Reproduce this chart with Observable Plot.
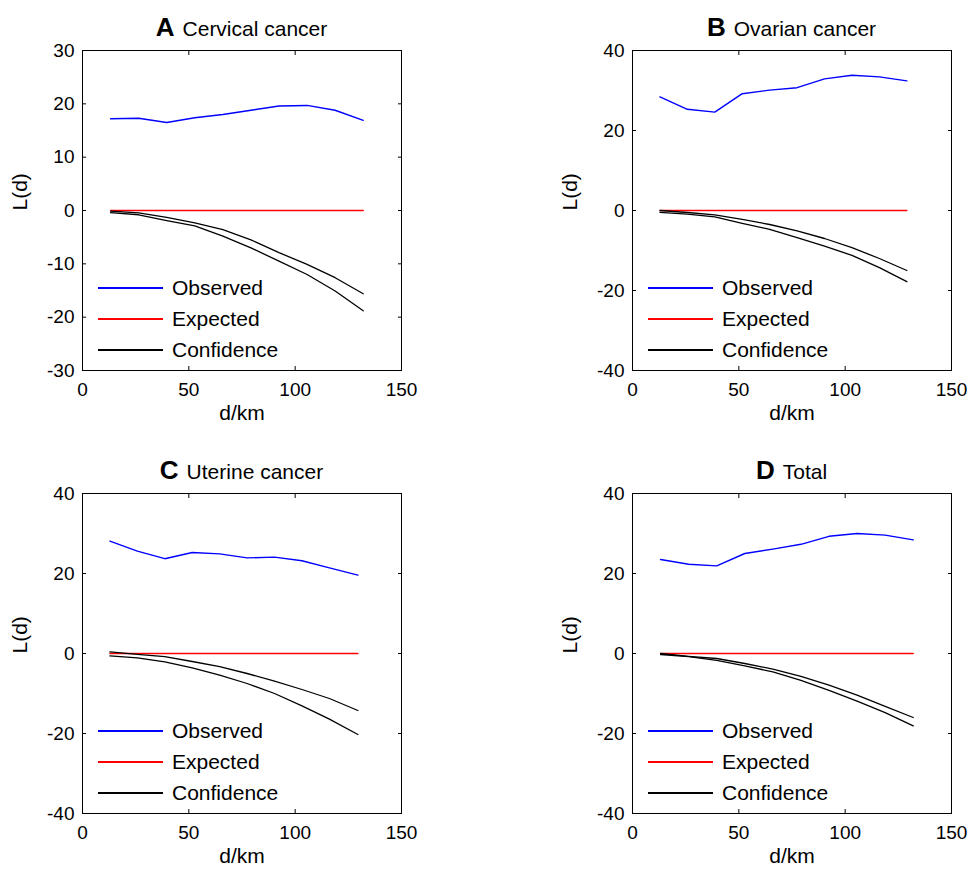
<!DOCTYPE html>
<html>
<head>
<meta charset="utf-8">
<script src="https://cdn.jsdelivr.net/npm/d3@7"></script>
<script src="https://cdn.jsdelivr.net/npm/@observablehq/plot@0.6"></script>
<style>
  html, body { margin: 0; padding: 0; background: white; overflow: hidden; }
  #wrap { position: relative; width: 969px; height: 871px; font-family: 'Liberation Sans', Arial, sans-serif; overflow: hidden; }
  .panel { position: absolute; width: 484px; height: 435px; }
  .panel svg { max-width: none !important; width: 484px; height: 435px; display: block; }
  .title { position: absolute; text-align: center; font-size: 21px; white-space: nowrap; line-height: 1; }
  .title b { font-size: 26px; margin-right: 8px; }
  .legend { position: absolute; font-size: 21px; line-height: 1; }
  .legend .row { position: absolute; left: 0; white-space: nowrap; }
  .legend .sw { position: absolute; left: 0; top: 0; width: 65px; height: 2px; }
  .legend .lab { position: absolute; left: 74px; top: -10px; }
</style>
</head>
<body>
<div id="wrap"></div>
<script>
// ---- data ----
const seriesNames = ["Observed", "Expected", "Confidence"];

const dA = [13.2, 26.4, 39.6, 52.8, 66, 79.2, 92.4, 105.6, 118.8, 132];
const obsA = [17.2, 17.3, 16.5, 17.4, 18.0, 18.8, 19.6, 19.7, 18.8, 16.9];
const expA = [0, 0, 0, 0, 0, 0, 0, 0, 0, 0];
const upA = [-0.1, -0.45, -1.3, -2.3, -3.6, -5.5, -7.9, -10.1, -12.6, -15.6];
const loA = [-0.4, -0.8, -1.9, -2.9, -4.8, -7.0, -9.5, -12.0, -15.1, -18.8];

const dB = [12.9, 25.8, 38.7, 51.6, 64.5, 77.4, 90.3, 103.2, 116.1, 129];
const obsB = [28.4, 25.3, 24.6, 29.2, 30.1, 30.7, 32.9, 33.8, 33.4, 32.4];
const expB = [0, 0, 0, 0, 0, 0, 0, 0, 0, 0];
const upB = [0, -0.5, -1.1, -2.2, -3.5, -5.1, -7.0, -9.3, -12.0, -15.0];
const loB = [-0.45, -0.9, -1.6, -3.2, -4.7, -6.8, -8.9, -11.2, -14.3, -17.8];

const dC = [12.9, 25.8, 38.7, 51.6, 64.5, 77.4, 90.3, 103.2, 116.1, 129.5];
const obsC = [28.1, 25.6, 23.7, 25.25, 24.9, 23.9, 24.1, 23.2, 21.4, 19.6];
const expC = [0, 0, 0, 0, 0, 0, 0, 0, 0, 0];
const upC = [0.4, -0.2, -0.8, -2.0, -3.3, -5.0, -6.9, -9.0, -11.25, -14.25];
const loC = [-0.6, -1.1, -2.1, -3.6, -5.4, -7.5, -10.0, -13.1, -16.4, -20.25];

const dD = [13.2, 26.4, 39.6, 52.8, 66, 79.2, 92.4, 105.6, 118.8, 132];
const obsD = [23.5, 22.3, 21.9, 25.0, 26.1, 27.3, 29.3, 30.0, 29.6, 28.4];
const expD = [0, 0, 0, 0, 0, 0, 0, 0, 0, 0];
const upD = [0, -0.7, -1.25, -2.5, -3.9, -5.7, -7.9, -10.4, -13.2, -16.0];
const loD = [-0.25, -0.8, -1.7, -3.1, -4.6, -6.7, -9.2, -11.9, -14.8, -18.1];

const xTicks = [0, 50, 100, 150];
const yTicksA = [-30, -20, -10, 0, 10, 20, 30];
const yTicks40 = [-40, -20, 0, 20, 40];

const panels = [
  {letter: "A", name: "Cervical cancer", d: dA, obs: obsA, exp: expA, up: upA, lo: loA, yTicks: yTicksA, left: 0, top: 0},
  {letter: "B", name: "Ovarian cancer", d: dB, obs: obsB, exp: expB, up: upB, lo: loB, yTicks: yTicks40, left: 550, top: 0},
  {letter: "C", name: "Uterine cancer", d: dC, obs: obsC, exp: expC, up: upC, lo: loC, yTicks: yTicks40, left: 0, top: 443},
  {letter: "D", name: "Total", d: dD, obs: obsD, exp: expD, up: upD, lo: loD, yTicks: yTicks40, left: 550, top: 443}
];

const colors = {Observed: "#0000ff", Expected: "#ff0000", Confidence: "#000000"};
const ML = 82, MT = 50, FW = 319, FH = 320;
const W = 484, H = 435;
const fmt = d => String(d);
const blank = () => "";

const wrap = document.getElementById("wrap");

for (const p of panels) {
  const rows = p.d.map((x, i) => ({x, obs: p.obs[i], exp: p.exp[i], up: p.up[i], lo: p.lo[i]}));
  const ext = d3.extent(p.yTicks);
  const chart = Plot.plot({
    width: W, height: H,
    marginLeft: ML, marginTop: MT, marginRight: W - ML - FW, marginBottom: H - MT - FH,
    style: {fontFamily: "'Liberation Sans', Arial, sans-serif", fontSize: "19px", background: "white", overflow: "visible", color: "black", maxWidth: "none"},
    x: {domain: [0, 150]},
    y: {domain: ext},
    marks: [
      Plot.line(rows, {x: "x", y: "obs", stroke: colors.Observed, strokeWidth: 1.4}),
      Plot.line(rows, {x: "x", y: "exp", stroke: colors.Expected, strokeWidth: 1.4}),
      Plot.line(rows, {x: "x", y: "up", stroke: colors.Confidence, strokeWidth: 1.3}),
      Plot.line(rows, {x: "x", y: "lo", stroke: colors.Confidence, strokeWidth: 1.3}),
      Plot.frame({stroke: "black", strokeWidth: 1}),
      // tick labels
      Plot.axisX({anchor: "bottom", ticks: xTicks, tickSize: 0, tickPadding: 12, tickFormat: fmt, label: null, fontSize: 19}),
      Plot.axisY({anchor: "left", ticks: p.yTicks, tickSize: 0, tickPadding: 8, tickFormat: fmt, label: null, fontSize: 19}),
      // inward ticks on all four sides
      Plot.axisX({anchor: "bottom", ticks: xTicks, tickSize: 4, dy: -4, tickFormat: blank, label: null}),
      Plot.axisX({anchor: "top", ticks: xTicks, tickSize: 4, dy: 4, tickFormat: blank, label: null}),
      Plot.axisY({anchor: "left", ticks: p.yTicks, tickSize: 4, dx: 4, tickFormat: blank, label: null}),
      Plot.axisY({anchor: "right", ticks: p.yTicks, tickSize: 4, dx: -4, tickFormat: blank, label: null}),
      // axis titles
      Plot.text(["d/km"], {frameAnchor: "bottom", dy: 49, fontSize: 21, text: d => d}),
      Plot.text(["L(d)"], {frameAnchor: "left", dx: -62, rotate: -90, fontSize: 21, text: d => d})
    ]
  });
  const div = document.createElement("div");
  div.className = "panel";
  div.style.left = p.left + "px";
  div.style.top = p.top + "px";
  div.appendChild(chart);
  wrap.appendChild(div);

  // title
  const t = document.createElement("div");
  t.className = "title";
  t.style.left = (p.left + ML) + "px";
  t.style.width = FW + "px";
  t.style.top = (p.top + MT - 36) + "px";
  t.innerHTML = `<b>${p.letter}</b>${p.name}`;
  wrap.appendChild(t);

  // legend
  const lg = document.createElement("div");
  lg.className = "legend";
  lg.style.left = (p.left + ML + 16) + "px";
  lg.style.top = (p.top + MT + FH - 83) + "px";
  seriesNames.forEach((s, i) => {
    const r = document.createElement("div");
    r.className = "row";
    r.style.top = Math.round(i * 30.8) + "px";
    r.innerHTML = `<span class="sw" style="background:${colors[s]}"></span><span class="lab">${s}</span>`;
    lg.appendChild(r);
  });
  wrap.appendChild(lg);
}
</script>
</body>
</html>
